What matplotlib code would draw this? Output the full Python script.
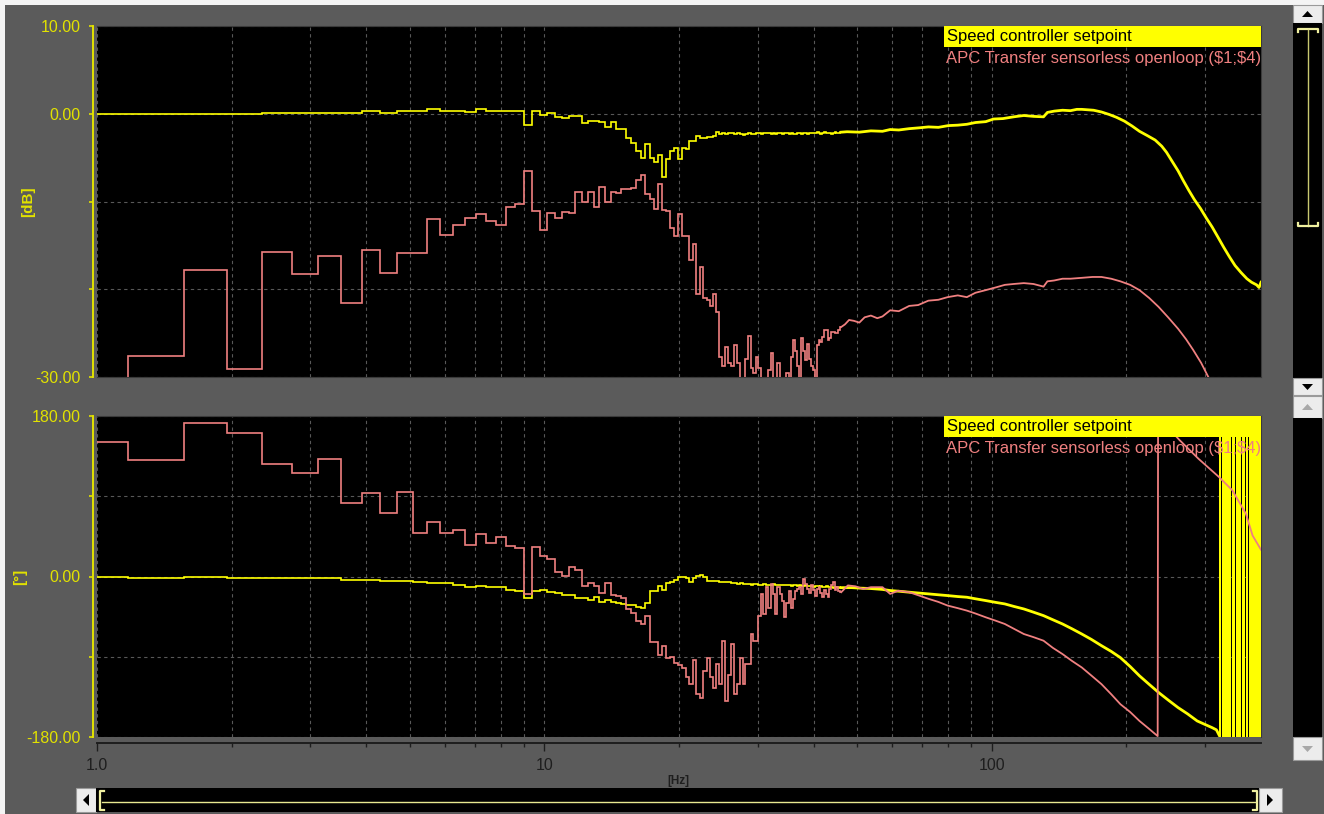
import numpy as np
import matplotlib.pyplot as plt
from matplotlib.patches import Rectangle, Polygon
from matplotlib.lines import Line2D
from matplotlib.ticker import FixedLocator, FixedFormatter, NullFormatter

plt.rcParams['font.family'] = ['Liberation Sans', 'DejaVu Sans']

W, H = 1324, 814
BG = '#5b5b5b'
YEL = '#ffff00'
SAL = '#f08080'
AXY = '#e2e200'
GRID = '#585858'

# analyzer line spacing (400 Hz / 1024 lines); low-frequency part is drawn as bins
df_hz = 0.390625
bin_edges = df_hz * np.arange(2, 119)   # 0.78 Hz ... 46.09 Hz, 116 bins

# --- magnitude [dB], per bin ---
mag_sp_bins = [
    -0.05, -0.05, -0.05, -0.05, 0.1, 0.1, 0.1, 0.1, 0.26, 0.08,
    0.26, 0.26, 0.49, 0.26, 0.37, 0.22, 0.49, 0.37, 0.37, 0.37,
    0.37, -1.25, 0.33, -0.11, 0.03, -0.35, -0.49, -0.22, -0.22, -1.06,
    -0.8, -0.8, -0.9, -1.55, -0.9, -1.7, -1.77, -2.8, -3.3, -4.3,
    -5.0, -3.5, -5.0, -5.5, -4.7, -7.2, -5.1, -4.3, -3.9, -5.1,
    -3.9, -4.0, -3.1, -3.1, -2.5, -2.8, -2.8, -2.7, -2.7, -2.5,
    -2.05, -2.3, -2.2, -2.3, -2.2,
    -2.2, -2.35, -2.25, -2.3, -2.4, -2.3, -2.25, -2.35, -2.3, -2.2,
    -2.25, -2.3, -2.2, -2.15, -2.25, -2.3, -2.2, -2.35, -2.25, -2.2,
    -2.3, -2.15, -2.25, -2.3, -2.2, -2.3, -2.35, -2.2, -2.25, -2.3,
    -2.2, -2.15, -2.3, -2.25, -2.2, -2.15, -2.25, -2.1, -2.2, -2.3,
    -2.2, -2.1, -2.25, -2.2, -2.15, -2.3, -2.2, -2.1, -2.2, -2.15,
    -2.1,
]
mag_apc_bins = [
    -32, -27.6, -17.8, -29.1, -15.8, -18.3, -16.2, -21.6, -15.5, -18.2,
    -15.9, -15.9, -12.0, -13.8, -12.7, -11.9, -11.4, -12.2, -12.7, -10.6,
    -10.3, -6.5, -11.1, -13.3, -11.3, -11.9, -11.2, -11.3, -8.9, -10.1,
    -8.9, -10.6, -8.3, -10.0, -8.9, -9.0, -8.6, -8.6, -8.5, -7.6,
    -7.0, -9.2, -9.7, -10.9, -8.0, -11.0, -11.1, -13.0, -13.9, -11.4,
    -13.9, -13.9, -16.7, -14.9, -20.5, -17.5, -21.0, -21.2, -21.9, -20.5,
    -22.6, -27.7, -28.7, -26.6, -28.4, -28.8, -26.4, -28.4, -31, -31,
    -28.0, -25.3, -29.0, -29.6, -27.7, -29.0, -31, -31, -31, -29.2,
    -27.3, -31, -31, -28.4, -31, -31, -31, -29.5, -31, -27.7,
    -25.8, -27.0, -28.8, -31, -25.6, -27.0, -28.1, -26.2, -28.0, -28.8,
    -29.2, -31, -26.4, -25.8, -26.0, -25.4, -24.7, -24.6, -25.8, -25.5,
    -24.9, -24.9, -25.0, -25.0, -24.6, -24.3,
]

# --- magnitude [dB], higher frequencies ---
mag_sp_hi_f = [46.1, 47.5, 50.6, 53.7, 57.0, 59.3, 62.0, 65.4, 69.0, 72.2,
               76.0, 80.0, 84.0, 88.0, 92.0, 97.0, 101.0, 106.0, 112.0, 118.0,
               124.0, 130.6, 133.2, 138.0, 144.0, 150.0, 155.0, 159.0, 164.0, 169.0,
               176.0, 183.0, 190.0, 198.0, 206.0, 214.0, 223.0, 232.0, 240.0, 246.0,
               253.0, 261.0, 268.0, 276.0, 284.0, 293.0, 302.0, 311.0, 320.0, 330.0,
               340.0, 350.0, 361.0, 372.0, 381.0, 391.0, 396.0, 400.0]
mag_sp_hi_v = [-2.1, -2.05, -2.1, -1.95, -2.0, -1.8, -1.85, -1.7, -1.6, -1.5,
               -1.55, -1.35, -1.3, -1.2, -1.0, -0.9, -0.6, -0.55, -0.35, -0.2,
               -0.3, -0.35, 0.15, 0.3, 0.4, 0.35, 0.5, 0.5, 0.45, 0.4,
               0.2, -0.08, -0.4, -0.84, -1.4, -2.0, -2.5, -3.0, -3.7, -4.4,
               -5.4, -6.5, -7.6, -8.75, -9.8, -10.8, -11.9, -12.9, -14.0, -15.2,
               -16.3, -17.3, -18.1, -18.8, -19.2, -19.5, -19.8, -19.2]
mag_apc_hi_f = [46.1, 47.0, 48.0, 49.2, 50.6, 52.0, 53.7, 55.5, 57.0, 59.3,
                62.0, 65.4, 68.5, 72.2, 76.0, 79.7, 84.0, 88.0, 92.0, 97.0,
                102.0, 107.0, 112.0, 118.0, 124.0, 130.6, 133.2, 138.0, 144.0, 150.0,
                159.0, 168.0, 176.0, 185.0, 194.0, 204.0, 214.0, 225.0, 236.0, 248.0,
                261.0, 272.0, 282.0, 294.0, 305.0, 315.0]
mag_apc_hi_v = [-24.3, -24.0, -23.5, -23.6, -23.8, -23.2, -23.0, -23.3, -23.1, -22.4,
                -22.5, -21.9, -21.8, -21.3, -21.2, -20.9, -20.7, -20.9, -20.4, -20.1,
                -19.8, -19.5, -19.4, -19.3, -19.4, -19.7, -19.1, -19.0, -18.8, -18.8,
                -18.7, -18.6, -18.6, -18.8, -19.1, -19.5, -20.1, -21.0, -22.0, -23.2,
                -24.5, -25.7, -26.9, -28.4, -30.0, -31.5]

# --- phase [deg], per bin ---
ph_sp_bins = [
    0, -1.9, 0, -1.9, -1.9, -1.9, -1.9, -3.4, -3.4, -4.9,
    -4.9, -6.4, -7.5, -7.5, -9, -12, -10.1, -12, -12, -14.6,
    -15.75, -24.4, -15.75, -14.6, -17.6, -18.75, -20.25, -20.25, -24.4, -24.4,
    -25.9, -22.5, -28.1, -25.9, -28.1, -29.6, -30.75, -31.9, -31.9, -33.75,
    -35.6, -30, -15.75, -15.75, -10.1, -14.6, -7.5, -6.4, -3.75, -1,
    -0.75, -1.5, -6.4, -1.5, 0.4, 1.5, 0, -4.9, -4.9, -4.5,
    -5, -6.4, -6.0, -6.4, -6.4, -7, -7.5,
    -8, -7.5, -8.5, -8, -8.5, -9, -8.5, -8, -9, -9.5,
    -8.5, -9, -9.5, -9, -8.5, -9.5, -10, -9, -9.5, -10,
    -9.5, -10, -10.5, -9.5, -10, -10.5, -10, -11, -10.5, -10,
    -11, -10.5, -11, -11.5, -10.5, -11, -11.5, -11, -12, -11.5,
    -11, -12, -11.5, -12, -12.5, -11.5, -12, -12.5, -12,
]
ph_apc_bins = [
    151, 131, 172.5, 161, 126, 116, 131.6, 82.5, 93.7, 71.3,
    94.9, 48.7, 61.1, 48.7, 51.75, 34.9, 47.25, 37.5, 44.25, 33.75,
    32.25, -19.5, 33, 22.9, 19.1, 4.9, 1.1, 10.5, 6.75, -10.1,
    -7.5, -10.1, -18.75, -7.5, -20.25, -21.4, -24, -37, -41, -50,
    -53, -44, -74, -74, -88, -77.6, -91, -90, -97, -99,
    -103, -113, -120.75, -94, -132, -135.75, -105.75, -91, -113, -124.5,
    -98, -120.75, -72, -139.5, -110, -75.75, -132, -120, -91, -120.75,
    -98, -98, -64.5, -72, -72, -43.9, -19.5, -41.6, -12, -35,
    -8, -20, -41.6, -12, -20, -27, -45.4, -30, -16, -35,
    -25, -16, -14, -12, -20, -2.6, -8, -13.5, -18, -9.75,
    -15, -21.4, -14, -12, -18, -23.25, -15, -20, -23, -14,
    -10, -6.4, -15, -12, -16, -17.6,
]

# --- phase [deg], higher frequencies ---
ph_sp_hi_f = [46.1, 48.6, 50.6, 53.7, 57.0, 59.3, 62.0, 65.4, 68.5, 72.2,
              76.0, 79.7, 84.0, 88.0, 92.0, 97.0, 102.0, 107.0, 112.0, 118.0,
              124.0, 130.6, 137.0, 144.0, 151.0, 159.0, 167.0, 176.0, 185.0, 194.0,
              204.0, 214.0, 225.0, 236.0, 248.0, 261.0, 274.0, 288.0, 300.0, 311.0,
              318.0, 322.5]
ph_sp_hi_v = [-12.5, -12.5, -13, -13.5, -14.5, -15.75, -16.5, -17.6, -18.5, -19.5,
              -20.5, -21.4, -22.5, -23.25, -25, -27, -29, -30.75, -33.5, -36.4,
              -40, -43.9, -48.5, -53.25, -58.5, -64.5, -70.5, -77.6, -84, -91,
              -101, -111.4, -121, -130, -138.5, -147, -154, -162, -166, -169.5,
              -172, -178]
ph_apc_hi_f = [46.1, 47.7, 49.6, 51.6, 53.7, 57.0, 59.3, 61.8, 65.4, 68.5,
               72.2, 76.0, 79.7, 84.0, 88.0, 92.0, 97.0, 102.0, 107.0, 112.0,
               118.0, 124.0, 130.6, 137.0, 144.0, 151.0, 159.0, 167.0, 176.0, 185.0,
               194.0, 204.0, 214.0, 225.0, 235.0, 235.5, 250.0, 263.0, 290.0, 322.0,
               345.0, 370.0, 383.0, 400.0]
ph_apc_hi_v = [-17.6, -10, -11, -14, -12, -12, -19.5, -16, -17.6, -21,
               -25, -28.5, -32.6, -35.5, -38.25, -41.5, -45.75, -49.5, -53.25, -58.5,
               -64.5, -68, -72, -80, -87, -94.5, -102, -111, -120.75, -132,
               -143.25, -152, -162, -171, -179, 178, 165, 153, 132, 111.7,
               96.8, 70.5, 46, 30]

# setpoint phase wraps between -180 and +180 above ~320 Hz
wrap_start = [322.5, 327.0, 344.5, 351.5, 363.0, 370.0, 376.0, 384.5]
wrap_end = [325.0, 342.5, 349.0, 361.5, 368.5, 373.5, 383.0, 400.0]

legend_names = ['Speed controller setpoint', r'APC Transfer sensorless openloop (\$1;\$4)']
minor_ticks = [2, 3, 4, 5, 6, 7, 8, 9, 20, 30, 40, 50, 60, 70, 80, 90, 200, 300]

fig = plt.figure(figsize=(W / 100, H / 100), dpi=100, facecolor=BG)


def px_rect(x0, y0, x1, y1, **kw):
    fig.add_artist(Rectangle((x0 / W, 1 - y1 / H), (x1 - x0) / W, (y1 - y0) / H,
                             transform=fig.transFigure, **kw))


def px_poly(pts, **kw):
    fig.add_artist(Polygon([(x / W, 1 - y / H) for x, y in pts], closed=True,
                           transform=fig.transFigure, **kw))


def px_line(xs, ys, **kw):
    fig.add_artist(Line2D([x / W for x in xs], [1 - y / H for y in ys],
                          transform=fig.transFigure, **kw))


def style_panel(ax, yticks, ylabels, h_px):
    ax.set_facecolor('black')
    ax.set_xscale('log')
    ax.set_xlim(1, 400)
    ax.set_ylim(yticks[0], yticks[-1])
    ax.yaxis.set_major_locator(FixedLocator(yticks))
    ax.yaxis.set_major_formatter(FixedFormatter(ylabels))
    ax.xaxis.set_major_locator(FixedLocator([1, 10, 100]))
    ax.xaxis.set_minor_locator(FixedLocator(minor_ticks))
    ax.xaxis.set_minor_formatter(NullFormatter())
    ax.grid(True, which='both', axis='x', color=GRID, ls=(0, (3, 3)), lw=0.8)
    ax.grid(True, which='major', axis='y', color=GRID, ls=(0, (3, 3)), lw=0.8)
    for s in ('top', 'right', 'bottom'):
        ax.spines[s].set_color('#3a3a3a')
    ax.spines['left'].set_position(('outward', 3))
    ax.spines['left'].set_color(AXY)
    ax.spines['left'].set_linewidth(1.4)
    ax.tick_params(axis='y', colors=AXY, direction='out', length=3, width=1.2,
                   labelsize=11.5, pad=6)
    # legend block in the top right corner
    ax.add_patch(Rectangle((0.7277, 1 - 21 / h_px), 0.2723, 21 / h_px,
                           transform=ax.transAxes, fc=YEL, ec='none', zorder=6))
    ax.text(0.7302, 1 - 10.5 / h_px, legend_names[0], transform=ax.transAxes,
            color='black', fontsize=12, va='center', ha='left', zorder=7)
    ax.text(0.7294, 1 - 32.5 / h_px, legend_names[1], transform=ax.transAxes,
            color=SAL, fontsize=12, va='center', ha='left', zorder=7)


# ---- magnitude panel ----
ax1 = fig.add_axes([97 / W, 1 - 377 / H, 1164 / W, 351 / H])
style_panel(ax1, [-30, -20, -10, 0, 10], ['-30.00', '', '', '0.00', '10.00'], 351)
ax1.tick_params(axis='x', which='both', length=0, labelbottom=False)
ax1.stairs(mag_apc_bins, bin_edges, baseline=None, color=SAL, lw=1.2, zorder=3)
ax1.plot(mag_apc_hi_f, mag_apc_hi_v, color=SAL, lw=1.3, zorder=3)
ax1.stairs(mag_sp_bins, bin_edges, baseline=None, color=YEL, lw=1.2, zorder=4)
ax1.plot(mag_sp_hi_f, mag_sp_hi_v, color=YEL, lw=2.0, zorder=4)

# ---- phase panel ----
ax2 = fig.add_axes([97 / W, 1 - 737 / H, 1164 / W, 321 / H])
style_panel(ax2, [-180, -90, 0, 90, 180], ['-180.00', '', '0.00', '', '180.00'], 321)
ax2.stairs(ph_sp_bins, bin_edges, baseline=None, color=YEL, lw=1.2, zorder=3)
ax2.plot(ph_sp_hi_f, ph_sp_hi_v, color=YEL, lw=2.0, zorder=3)
for s, e in zip(wrap_start, wrap_end):
    ax2.fill_between([s, e], -180, 180, color=YEL, lw=0, zorder=3)
ax2.stairs(ph_apc_bins, bin_edges, baseline=None, color=SAL, lw=1.2, zorder=4)
ax2.plot(ph_apc_hi_f, ph_apc_hi_v, color=SAL, lw=1.3, zorder=4)
ax2.spines['bottom'].set_position(('outward', 4))
ax2.spines['bottom'].set_color('#1e1e1e')
ax2.spines['bottom'].set_linewidth(1.4)
ax2.xaxis.set_major_formatter(FixedFormatter(['1.0', '10', '100']))
ax2.tick_params(axis='x', which='major', direction='out', length=6, width=1,
                colors='#1e1e1e', labelsize=11.5, pad=5)
ax2.tick_params(axis='x', which='minor', direction='out', length=3, width=1,
                colors='#1e1e1e')

# axis captions
fig.text(28 / W, 1 - 202 / H, '[dB]', rotation=90, color=AXY, fontsize=11,
         fontweight='bold', ha='center', va='center')
fig.text(20 / W, 1 - 577 / H, '[°]', rotation=90, color=AXY, fontsize=11,
         fontweight='bold', ha='center', va='center')
fig.text(678 / W, 1 - 781 / H, '[Hz]', color='#1e1e1e', fontsize=8.5,
         fontweight='bold', ha='center', va='center')

# ---- window chrome: borders and scrollbars ----
BTN = '#ececec'
px_rect(0, 0, W, 5, fc='#f4f4f4', ec='none')
px_rect(0, 0, 5, H, fc='#f4f4f4', ec='none')

# right scrollbars
px_rect(1293, 5, 1322, 23, fc=BTN, ec='#9a9a9a', lw=0.8)
px_poly([(1302, 17), (1313, 17), (1307.5, 11)], fc='black', ec='none')
px_rect(1293, 23, 1322, 378, fc='black', ec='none')
px_line([1298, 1298, 1318, 1318], [32, 29, 29, 32], color='#f0f0a0', lw=1.6)
px_line([1308, 1308], [30, 226], color='#c8c870', lw=1.0)
px_line([1298, 1298, 1318, 1318], [223, 226, 226, 223], color='#f0f0a0', lw=1.6)
px_rect(1293, 378, 1322, 395, fc=BTN, ec='#9a9a9a', lw=0.8)
px_poly([(1302, 384), (1313, 384), (1307.5, 390)], fc='black', ec='none')
px_rect(1293, 396, 1322, 418, fc=BTN, ec='#9a9a9a', lw=0.8)
px_poly([(1302, 410), (1313, 410), (1307.5, 404)], fc='#a8a8a8', ec='none')
px_rect(1293, 418, 1322, 737, fc='black', ec='none')
px_rect(1293, 737, 1322, 760, fc=BTN, ec='#9a9a9a', lw=0.8)
px_poly([(1302, 746), (1313, 746), (1307.5, 752)], fc='#a8a8a8', ec='none')

# bottom scrollbar
px_rect(76, 788, 96, 812, fc=BTN, ec='#9a9a9a', lw=0.8)
px_poly([(89, 794), (89, 806), (83, 800)], fc='black', ec='none')
px_rect(96, 788, 1259, 812, fc='black', ec='none')
px_line([104, 100, 100, 104], [791, 791, 810, 810], color='#f0f0a0', lw=1.6)
px_line([102, 1255], [802, 802], color='#e8e890', lw=1.0)
px_line([1253, 1257, 1257, 1253], [791, 791, 810, 810], color='#f0f0a0', lw=1.6)
px_rect(1259, 788, 1282, 812, fc=BTN, ec='#9a9a9a', lw=0.8)
px_poly([(1267, 794), (1267, 806), (1273, 800)], fc='black', ec='none')

fig.savefig('out.png', dpi=100, facecolor=BG)
